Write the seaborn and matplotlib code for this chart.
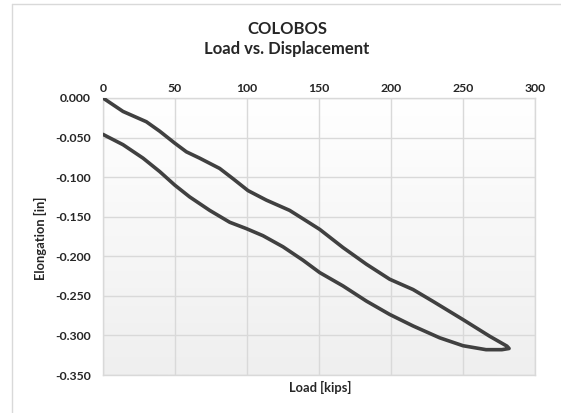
import numpy as np
import pandas as pd
import matplotlib
matplotlib.use("Agg")
import matplotlib.pyplot as plt
import seaborn as sns
from matplotlib.lines import Line2D
from matplotlib.colors import LinearSegmentedColormap

# ---- data ----
load_kips = [0, 13.9, 30.1, 39.4, 49.8, 57.9, 67.1, 81, 90.3, 100.7, 113.4, 129.6, 136.6,
             150.5, 166.7, 182.9, 199.1, 215.3, 229.2, 250, 268.5, 280.5,
             282, 277, 266, 250, 233.8, 215.3, 199.1, 182.9, 166.7, 150.5, 138.9,
             125, 111.1, 99.5, 88, 74.1, 60.2, 49.8, 39.4, 27.8, 13.9, 0]
elongation_in = [0, -0.017, -0.030, -0.042, -0.057, -0.068, -0.076, -0.089, -0.102, -0.117, -0.129, -0.142, -0.150,
                 -0.166, -0.189, -0.210, -0.229, -0.242, -0.257, -0.280, -0.301, -0.3135,
                 -0.3165, -0.318, -0.318, -0.313, -0.303, -0.288, -0.2735, -0.2566, -0.2375, -0.2206, -0.205,
                 -0.188, -0.174, -0.165, -0.157, -0.142, -0.125, -0.110, -0.093, -0.076, -0.059, -0.046]
x_ticks = [0, 50, 100, 150, 200, 250, 300]
y_ticks = [0.0, -0.05, -0.10, -0.15, -0.20, -0.25, -0.30, -0.35]
y_tick_labels = ["0.000", "-0.050", "-0.100", "-0.150", "-0.200", "-0.250", "-0.300", "-0.350"]
title_text = "COLOBOS\nLoad vs. Displacement"
x_label = "Load [kips]"
y_label = "Elongation [in]"

df = pd.DataFrame({"load": load_kips, "elong": elongation_in})

sns.set_theme(style="white")
plt.rcParams["font.family"] = ["Lato", "DejaVu Sans"]

fig = plt.figure(figsize=(5.61, 4.13), dpi=100)
ax = fig.add_axes([103 / 561, 1 - 375 / 413, (535 - 103) / 561, (375 - 98) / 413])

# gradient background
grad = np.linspace(0, 1, 256).reshape(-1, 1)
cmap = LinearSegmentedColormap.from_list("bg", ["#ffffff", "#efefef"])
ax.imshow(grad, extent=[0, 300, -0.35, 0], aspect="auto", cmap=cmap, zorder=0, origin="upper")

sns.lineplot(data=df, x="load", y="elong", sort=False, estimator=None, ax=ax,
             color="#404040", linewidth=2.6, zorder=3,
             solid_joinstyle="round", solid_capstyle="round")

ax.set_xlim(0, 300)
ax.set_ylim(-0.35, 0)
ax.xaxis.tick_top()
ax.set_xticks(x_ticks)
ax.set_xticklabels([str(t) for t in x_ticks], fontweight="bold", fontsize=8.8, color="#262626")
ax.set_yticks(y_ticks)
ax.set_yticklabels(y_tick_labels, fontweight="bold", fontsize=8.8, color="#262626")
ax.tick_params(axis="x", length=0, pad=3)
ax.tick_params(axis="y", length=0, pad=9)
ax.grid(True, color="#d9d9d9", linewidth=1.0, zorder=1)
for s in ax.spines.values():
    s.set_color("#d9d9d9")
    s.set_linewidth(1.0)
ax.set_xlabel("")
ax.set_ylabel("")

fig.text(320 / 561, 1 - 387 / 413, x_label, ha="center", va="center",
         fontweight="bold", fontsize=9.3, color="#262626")
fig.text(40 / 561, 1 - 238 / 413, y_label, ha="center", va="center", rotation=90,
         fontweight="bold", fontsize=9.3, color="#262626")
fig.text(287 / 561, 1 - 39 / 413, title_text, ha="center", va="center",
         fontweight="bold", fontsize=12, color="#262626", linespacing=1.35)

# outer chart border
fig.add_artist(Line2D([12 / 561, 1], [1 - 4 / 413, 1 - 4 / 413], transform=fig.transFigure,
                      color="#d9d9d9", linewidth=1))
fig.add_artist(Line2D([12 / 561, 12 / 561], [0, 1 - 4 / 413], transform=fig.transFigure,
                      color="#d9d9d9", linewidth=1))

fig.savefig("out.png", dpi=100, facecolor="white")
